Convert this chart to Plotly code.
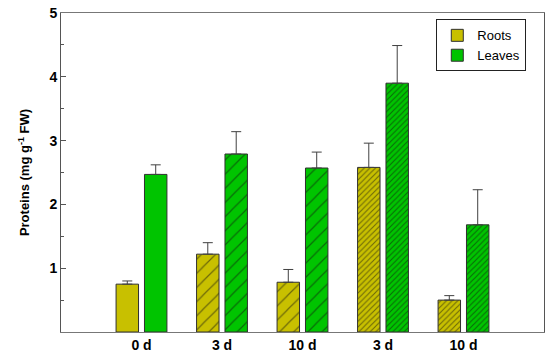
import plotly.graph_objects as go

categories = ["0 d", "3 d", "10 d", "3 d", "10 d"]
roots = [0.75, 1.22, 0.78, 2.58, 0.50]
roots_err = [0.05, 0.18, 0.20, 0.38, 0.07]
leaves = [2.47, 2.79, 2.57, 3.90, 1.68]
leaves_err = [0.15, 0.35, 0.25, 0.59, 0.55]
hatch_shape = ["", "/", "/", "/", "/"]
hatch_size = [10, 10, 10, 4, 4]
hatch_solidity = [0.12, 0.12, 0.12, 0.28, 0.28]

xpos = list(range(len(categories)))
font = "Arial, Liberation Sans, sans-serif"

def bar(name, vals, errs, color):
    return go.Bar(
        name=name, x=xpos, y=vals,
        marker=dict(color=color, line=dict(color="#303030", width=1),
                    pattern=dict(shape=hatch_shape, size=hatch_size,
                                 solidity=hatch_solidity, fgcolor="#111111",
                                 fillmode="overlay")),
        error_y=dict(type="data", symmetric=False, array=errs,
                     arrayminus=[0] * len(errs), color="#404040",
                     thickness=1, width=5),
    )

fig = go.Figure([bar("Roots", roots, roots_err, "#c8c000"),
                 bar("Leaves", leaves, leaves_err, "#00c400")])

fig.update_layout(
    width=550, height=358,
    margin=dict(l=61, r=5, t=12, b=24),
    paper_bgcolor="white", plot_bgcolor="white",
    barmode="group", bargap=0.294, bargroupgap=0.21,
    font=dict(family=font, size=13, color="black"),
    legend=dict(x=0.777, y=0.98, xanchor="left", yanchor="top",
                bordercolor="#222222", borderwidth=1, bgcolor="white",
                font=dict(size=13), tracegroupgap=0, itemwidth=30),
    showlegend=True,
)
fig.update_xaxes(
    range=[-1, 5], tickmode="array", tickvals=xpos, ticktext=categories,
    tickfont=dict(size=14, family=font, weight="bold"),
    showgrid=False, zeroline=False, ticks="",
    showline=True, linecolor="#777777", linewidth=1, mirror=True,
)
fig.update_yaxes(
    range=[0, 5], tickmode="array", tickvals=[1, 2, 3, 4, 5],
    tickfont=dict(size=14, family=font, weight="bold"),
    showgrid=False, zeroline=False,
    ticks="inside", ticklen=5, tickcolor="#555555",
    minor=dict(tickvals=[0.5, 1.5, 2.5, 3.5, 4.5], ticks="inside",
               ticklen=3, tickcolor="#555555"),
    showline=True, linecolor="#555555", linewidth=1, mirror=True,
    title=dict(text="Proteins (mg g<sup>-1</sup> FW)",
               font=dict(size=13, family=font, weight="bold"), standoff=16),
)
fig.write_html("out.html", config={"displayModeBar": False},
               post_script="document.body.style.margin='0';document.body.style.padding='0';")
